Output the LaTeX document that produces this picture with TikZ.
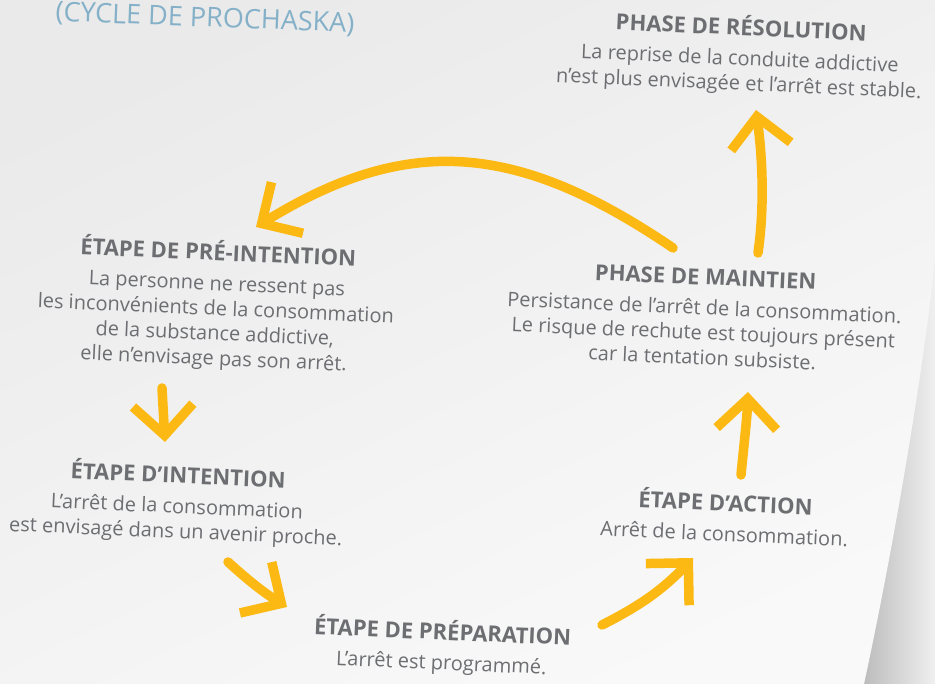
\documentclass[tikz,border=0pt]{standalone}
\usepackage{fontspec}
\setmainfont{Open Sans}
\usetikzlibrary{arrows.meta}
\definecolor{cycleyellow}{RGB}{253,185,19}
\definecolor{textgray}{RGB}{109,110,113}
\definecolor{titleblue}{RGB}{132,176,200}
\definecolor{pagelight}{RGB}{249,249,249}
\definecolor{pagedark}{RGB}{234,234,235}

\tikzset{
  stage/.style={align=center, text=textgray, rotate=-2.5, inner sep=0pt,
    font=\fontsize{20}{25}\selectfont},
  flow/.style={draw=cycleyellow, line width=9.5pt, line cap=round,
    -{Straight Barb[length=30pt, width=60pt, sharp]}},
}
\newcommand{\stagetitle}[1]{{\fontsize{22}{25}\selectfont\bfseries #1}\\[5pt]}

\begin{document}
\begin{tikzpicture}[x=1pt,y=1pt]
\useasboundingbox (0,0) rectangle (935,684);
% shadow under the lifted corner
\shade[left color=black!30, right color=black!6] (850,0) rectangle (935,684);
% the sheet
\shade[top color=pagedark, bottom color=pagelight, shading angle=25]
  (0,0) -- (0,684) -- (935,684) -- (935,424)
  .. controls (922,300) and (890,120) .. (864,0) -- cycle;

% Title
\node[font=\fontsize{27}{30}\selectfont, text=titleblue, rotate=-2.2] (title) at (205,665) {(CYCLE DE PROCHASKA)};

% Stages of the cycle
\node[stage] (resolution) at (740,629) {\stagetitle{PHASE DE RÉSOLUTION}
  La reprise de la conduite addictive\\ n’est plus envisagée et l’arrêt est stable.};
\node[stage] (preintent) at (216,379) {\stagetitle{ÉTAPE DE PRÉ-INTENTION}
  La personne ne ressent pas\\ les inconvénients de la consommation\\
  de la substance addictive,\\ elle n’envisage pas son arrêt.};
\node[stage] (maintain) at (704,367) {\stagetitle{PHASE DE MAINTIEN}
  Persistance de l’arrêt de la consommation.\\ Le risque de rechute est toujours présent\\
  car la tentation subsiste.};
\node[stage] (intent) at (177,181) {\stagetitle{ÉTAPE D’INTENTION}
  L’arrêt de la consommation\\ est envisagé dans un avenir proche.};
\node[stage] (action) at (725,168) {\stagetitle{ÉTAPE D’ACTION}
  Arrêt de la consommation.};
\node[stage] (prepare) at (442,37) {\stagetitle{ÉTAPE DE PRÉPARATION}
  L’arrêt est programmé.};

% Arrow ends
\coordinate (maintain-up) at (758,431);
\coordinate (resolution-in) at (756,574);
\coordinate (relapse-out) at (673,436);
\coordinate (preintent-in) at (256,457);
\coordinate (preintent-out) at (162,296);
\coordinate (intent-in) at (165,242);
\coordinate (intent-out) at (228,122);
\coordinate (prepare-in) at (287,77);
\coordinate (prepare-out) at (602,59);
\coordinate (action-in) at (693,126);
\coordinate (action-out) at (741,209);
\coordinate (maintain-in) at (748,292);

% Arrows
\draw[flow] (maintain-up) .. controls (765,480) and (762,530) .. (resolution-in);
\draw[flow] (relapse-out) .. controls (520,540) and (410,552) .. (preintent-in);
\draw[flow] (preintent-out) -- (intent-in);
\draw[flow] (intent-out) to[out=-42,in=148] (prepare-in);
\draw[flow] (prepare-out) to[out=27,in=226] (action-in);
\draw[flow] (action-out) .. controls (744,240) and (747,265) .. (maintain-in);
\end{tikzpicture}
\end{document}
